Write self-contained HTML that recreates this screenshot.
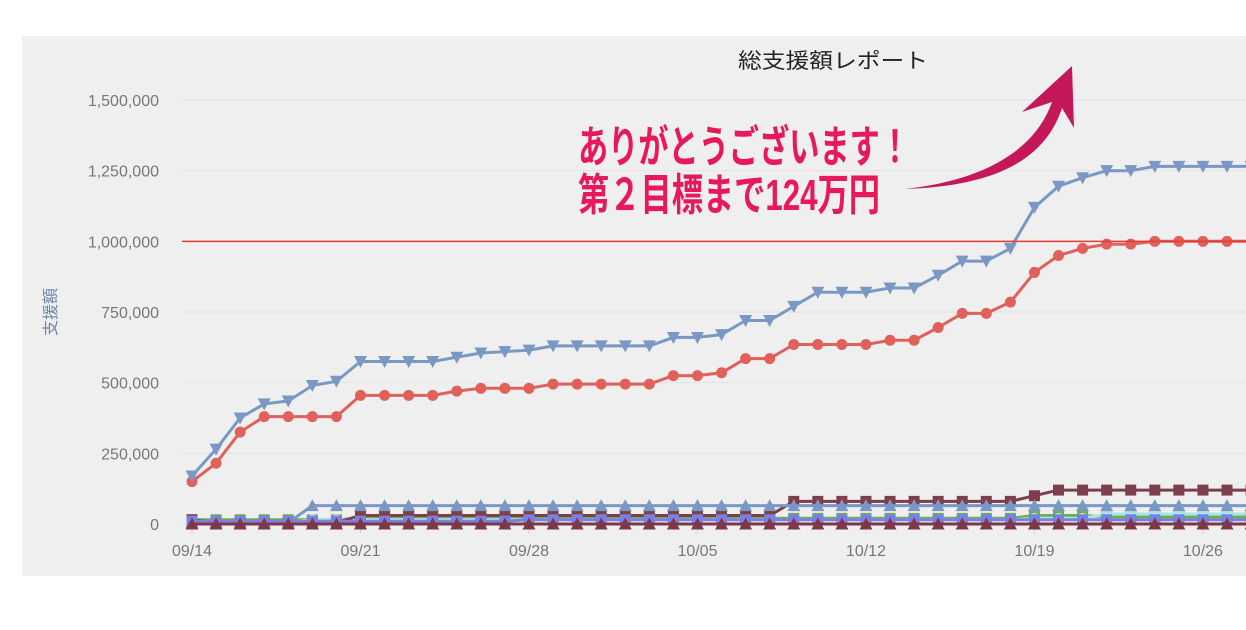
<!DOCTYPE html>
<html><head><meta charset="utf-8">
<style>
html,body{margin:0;padding:0;background:#fff;}
svg{display:block;font-family:"Liberation Sans","Noto Sans CJK JP",sans-serif;}
</style></head>
<body>
<svg id="chart" width="1246" height="630" viewBox="0 0 1246 630">
  <rect x="22" y="36" width="1224" height="540" fill="#efefef"/>
  <g id="grid"></g>
  <g id="yaxis"></g>
  <g id="xaxis"></g>
  <text x="56" y="312" transform="rotate(-90 56 312)" text-anchor="middle" font-size="16" fill="#6f86a8">支援額</text>
  <text x="738" y="68" textLength="190" lengthAdjust="spacingAndGlyphs" font-size="21" fill="#222">総支援額レポート</text>
  <g id="series"></g>
  <line id="goal" x1="182" x2="1246" stroke="#e53935" stroke-width="1.5"/>
  <path d="M905,189 C985,180 1035,150 1052,102 L1022,112 L1072,66 L1074,128 L1062,108 C1045,160 995,186 905,189 Z" fill="#c4185a"/>
  <text x="578" y="162" textLength="332" lengthAdjust="spacingAndGlyphs" font-size="44" font-weight="bold" fill="#e8195a">ありがとうございます！</text>
  <text x="578" y="210" textLength="302" lengthAdjust="spacingAndGlyphs" font-size="44" font-weight="bold" fill="#e8195a">第２目標まで124万円</text>
</svg>
<script>
const yTicks=[0,250000,500000,750000,1000000,1250000,1500000];
const xTickLabels=["09/14","09/21","09/28","10/05","10/12","10/19","10/26"];
const xTickDays=[0,7,14,21,28,35,42];
const goalValue=1000000;
const totalBlue=[170000,265000,375000,425000,435000,490000,505000,575000,575000,575000,575000,590000,605000,610000,615000,630000,630000,630000,630000,630000,660000,660000,670000,720000,720000,770000,820000,820000,820000,835000,835000,880000,930000,930000,975000,1120000,1195000,1225000,1250000,1250000,1265000,1265000,1265000,1265000,1265000];
const totalRed=[150000,215000,325000,380000,380000,380000,380000,455000,455000,455000,455000,470000,480000,480000,480000,495000,495000,495000,495000,495000,525000,525000,535000,585000,585000,635000,635000,635000,635000,650000,650000,695000,745000,745000,785000,890000,950000,975000,990000,990000,1000000,1000000,1000000,1000000,1000000];
const seriesSteel=[5000,5000,5000,5000,5000,65000,65000,65000,65000,65000,65000,65000,65000,65000,65000,65000,65000,65000,65000,65000,65000,65000,65000,65000,65000,65000,65000,65000,65000,65000,65000,65000,65000,65000,65000,65000,65000,65000,65000,65000,65000,65000,65000,65000,65000];
const seriesMaroon=[15000,5000,5000,5000,5000,5000,5000,30000,30000,30000,30000,30000,30000,30000,30000,30000,30000,30000,30000,30000,30000,30000,30000,30000,30000,80000,80000,80000,80000,80000,80000,80000,80000,80000,80000,100000,120000,120000,120000,120000,120000,120000,120000,120000,120000];
const seriesGreen=[15000,15000,15000,15000,15000,15000,15000,20000,20000,20000,20000,20000,20000,20000,20000,20000,20000,20000,20000,20000,20000,20000,20000,20000,20000,20000,20000,20000,20000,20000,20000,20000,20000,20000,20000,30000,30000,30000,25000,25000,25000,25000,25000,25000,25000];
const seriesCyan=[5000,5000,5000,5000,5000,15000,15000,15000,15000,15000,15000,15000,15000,15000,15000,15000,15000,15000,15000,15000,15000,15000,15000,15000,15000,15000,15000,15000,15000,15000,15000,15000,15000,15000,15000,20000,20000,20000,35000,35000,35000,35000,35000,35000,35000];
const seriesPurple=[10000,10000,10000,10000,10000,10000,10000,10000,10000,10000,10000,10000,10000,10000,15000,15000,15000,15000,15000,15000,15000,15000,15000,15000,15000,15000,15000,15000,15000,15000,15000,15000,15000,15000,15000,15000,15000,15000,15000,15000,15000,15000,15000,15000,15000];
const seriesZero=[0,0,0,0,0,0,0,0,0,0,0,0,0,0,0,0,0,0,0,0,0,0,0,0,0,0,0,0,0,0,0,0,0,0,0,0,0,0,0,0,0,0,0,0,0];

const NS="http://www.w3.org/2000/svg";
function xs(d){return 192+d*24.07;}
function ys(v){return 524-v*(424/1500000);}
function mk(tag,attrs,parent){const e=document.createElementNS(NS,tag);for(const k in attrs)e.setAttribute(k,attrs[k]);parent.appendChild(e);return e;}
const grid=document.getElementById('grid'),yax=document.getElementById('yaxis'),xax=document.getElementById('xaxis'),ser=document.getElementById('series');
yTicks.forEach(v=>{
  const l=mk('line',{x1:182,x2:1246,y1:ys(v),y2:ys(v),stroke:'#e2e2e2','stroke-width':1},grid);
  
  
  const t=mk('text',{x:159,y:ys(v)+6,'text-anchor':'end','font-size':16,fill:'#777'},yax);
  t.textContent=v.toLocaleString('en-US');
  
  
});
xTickDays.forEach((d,i)=>{
  const l=mk('line',{x1:xs(d),x2:xs(d),y1:524,y2:534,stroke:'#ccd6eb'},xax);
  
  
  const t=mk('text',{x:xs(d),y:556,'text-anchor':'middle','font-size':16,fill:'#777'},xax);
  t.textContent=xTickLabels[i];
  
  
});
const g=document.getElementById('goal');g.setAttribute('y1',ys(goalValue));g.setAttribute('y2',ys(goalValue));

function marker(type,x,y,color,parent){
  let e;
  if(type==='circle')e=mk('circle',{cx:x,cy:y,r:5.5,fill:color},parent);
  else if(type==='square')e=mk('rect',{x:x-5.5,y:y-5.5,width:11,height:11,fill:color},parent);
  else if(type==='tri-up')e=mk('path',{d:`M${x},${y-6.5}L${x+6.5},${y+5.5}L${x-6.5},${y+5.5}Z`,fill:color},parent);
  else e=mk('path',{d:`M${x},${y+6.5}L${x+6.5},${y-5.5}L${x-6.5},${y-5.5}Z`,fill:color},parent);
  return e;
}
function drawSeries(data,color,type,name){
  const grp=mk('g',{},ser);
  
  
  let d='';
  data.forEach((v,i)=>{d+=(i?'L':'M')+xs(i).toFixed(1)+','+ys(v).toFixed(1);});
  mk('path',{d:d,fill:'none',stroke:color,'stroke-width':3,'stroke-linejoin':'round'},grp);
  data.forEach((v,i)=>{
    const m=marker(type,xs(i),ys(v),color,grp);
    
    
  });
}
drawSeries(seriesGreen,'#6ab04c','square','series-green');
drawSeries(seriesCyan,'#a8e4ec','circle','series-cyan');
drawSeries(seriesMaroon,'#7d3f4c','square','series-maroon');
drawSeries(seriesSteel,'#7a98c4','tri-up','series-steel');
drawSeries(seriesPurple,'#7b7fe0','square','series-purple');
drawSeries(seriesZero,'#7d3848','tri-up','series-zero');
drawSeries(totalRed,'#e0605a','circle','series-total-red');
drawSeries(totalBlue,'#7a98c4','tri-down','series-total-blue');
</script>
</body></html>
